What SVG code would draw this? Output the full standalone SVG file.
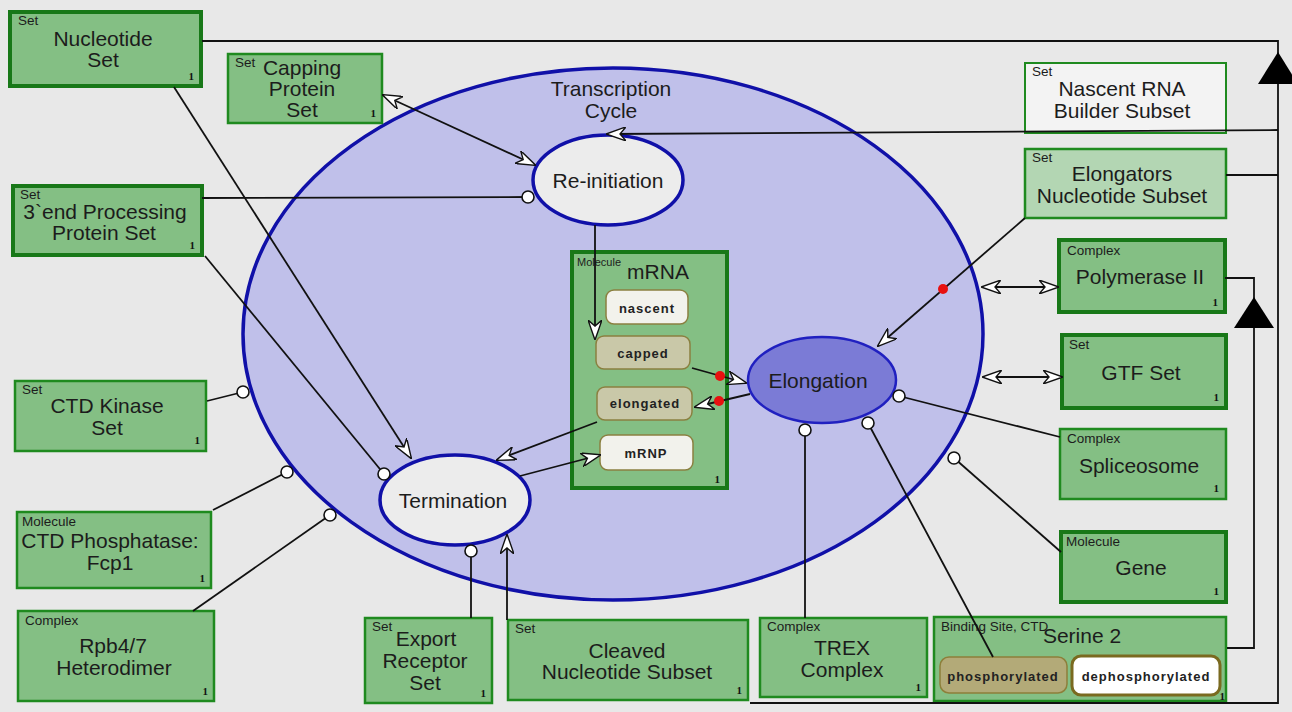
<svg xmlns="http://www.w3.org/2000/svg" width="1292" height="712" viewBox="0 0 1292 712">
<defs>
<style>
.bg{fill:#e8e8e8}
.box{fill:#84bf84;stroke:#1f8a1f;stroke-width:2.5}
.thick{stroke:#187818;stroke-width:4}
.lt{fill:#b3d6b3}
.wh{fill:#f3f3f3}
.t{font-family:"Liberation Sans",Arial,sans-serif;font-size:21px;fill:#1c1c1c;text-anchor:middle}
.k{font-family:"Liberation Sans",Arial,sans-serif;font-size:13.5px;fill:#1c1c1c}
.n{font-family:"Liberation Serif","Times New Roman",serif;font-size:11px;font-weight:bold;fill:#111;text-anchor:end}
.s{font-family:"Liberation Sans",Arial,sans-serif;font-size:13px;font-weight:bold;letter-spacing:1px;fill:#222;text-anchor:middle}
.st{fill:#f2f2ec;stroke:#8a8040;stroke-width:1.5}
.sg{fill:#c9c8a8;stroke:#8a8040;stroke-width:1.5}
.proc{fill:#ececec;stroke:#1010a8;stroke-width:3.5}
.ln{fill:none;stroke:#111;stroke-width:1.8}
.cir{fill:#fff;stroke:#111;stroke-width:1.6}
.red{fill:#e81010}
</style>
<marker id="open" viewBox="0 0 20 14" refX="19" refY="7" markerWidth="20" markerHeight="14" markerUnits="userSpaceOnUse" orient="auto-start-reverse">
<path d="M0,0 L20,7 L0,14 L6,7 Z" fill="#fff" stroke="#111" stroke-width="1.4"/>
</marker>
</defs>
<rect class="bg" x="0" y="0" width="1292" height="712"/>

<g id="transcription-cycle">
<ellipse cx="613" cy="334" rx="370" ry="266" fill="#c0c0ea" stroke="#1010a8" stroke-width="3.5"/>
<text class="t" x="611" y="96">Transcription</text>
<text class="t" x="611" y="118">Cycle</text>
</g>

<g id="nucleotide-set">
<rect class="box thick" x="10" y="12" width="191" height="74"/>
<text class="k" x="18" y="25">Set</text>
<text class="t" x="103" y="46">Nucleotide</text>
<text class="t" x="103" y="67">Set</text>
<text class="n" x="194" y="80">1</text>
</g>

<g id="capping-protein-set">
<rect class="box" x="228" y="54" width="154" height="69"/>
<text class="k" x="235" y="67">Set</text>
<text class="t" x="302" y="75">Capping</text>
<text class="t" x="302" y="96">Protein</text>
<text class="t" x="302" y="117">Set</text>
<text class="n" x="376" y="117">1</text>
</g>

<g id="end-processing-protein-set">
<rect class="box thick" x="13" y="186" width="189" height="69"/>
<text class="k" x="20" y="199">Set</text>
<text class="t" x="105" y="219">3`end Processing</text>
<text class="t" x="104" y="240">Protein Set</text>
<text class="n" x="195" y="249">1</text>
</g>

<g id="ctd-kinase-set">
<rect class="box" x="15" y="381" width="191" height="70"/>
<text class="k" x="22" y="394">Set</text>
<text class="t" x="107" y="413">CTD Kinase</text>
<text class="t" x="107" y="435">Set</text>
<text class="n" x="200" y="444">1</text>
</g>

<g id="ctd-phosphatase-fcp1">
<rect class="box" x="17" y="512" width="194" height="76"/>
<text class="k" x="22" y="526">Molecule</text>
<text class="t" x="110" y="548">CTD Phosphatase:</text>
<text class="t" x="110" y="570">Fcp1</text>
<text class="n" x="205" y="582">1</text>
</g>

<g id="rpb47-heterodimer">
<rect class="box" x="18" y="611" width="196" height="90"/>
<text class="k" x="25" y="625">Complex</text>
<text class="t" x="113" y="653">Rpb4/7</text>
<text class="t" x="114" y="675">Heterodimer</text>
<text class="n" x="208" y="695">1</text>
</g>

<g id="export-receptor-set">
<rect class="box" x="365" y="618" width="127" height="85"/>
<text class="k" x="372" y="631">Set</text>
<text class="t" x="426" y="646">Export</text>
<text class="t" x="425" y="668">Receptor</text>
<text class="t" x="425" y="690">Set</text>
<text class="n" x="486" y="697">1</text>
</g>

<g id="cleaved-nucleotide-subset">
<rect class="box" x="508" y="620" width="240" height="80"/>
<text class="k" x="515" y="633">Set</text>
<text class="t" x="627" y="658">Cleaved</text>
<text class="t" x="627" y="679">Nucleotide Subset</text>
<text class="n" x="742" y="694">1</text>
</g>

<g id="trex-complex">
<rect class="box" x="760" y="618" width="167" height="79"/>
<text class="k" x="767" y="631">Complex</text>
<text class="t" x="842" y="655">TREX</text>
<text class="t" x="842" y="677">Complex</text>
<text class="n" x="921" y="691">1</text>
</g>

<g id="serine-2">
<rect class="box" x="934" y="617" width="292" height="84"/>
<text class="k" x="941" y="631">Binding Site, CTD</text>
<text class="t" x="1082" y="643">Serine 2</text>
<rect x="940" y="657" width="127" height="36" rx="9" fill="#b3aa78" stroke="#8d7f3a" stroke-width="1.5"/>
<text class="s" x="1003" y="681">phosphorylated</text>
<rect x="1072" y="656" width="148" height="39" rx="9" fill="#ffffff" stroke="#7a6a20" stroke-width="3"/>
<text class="s" x="1146" y="681">dephosphorylated</text>
<text class="n" x="1225" y="700">1</text>
</g>

<g id="nascent-rna-builder-subset">
<rect class="box wh" x="1025" y="63" width="201" height="70" style="stroke-width:2"/>
<text class="k" x="1032" y="76">Set</text>
<text class="t" x="1122" y="96">Nascent RNA</text>
<text class="t" x="1122" y="118">Builder Subset</text>
</g>

<g id="elongators-nucleotide-subset">
<rect class="box lt" x="1025" y="149" width="201" height="69"/>
<text class="k" x="1032" y="162">Set</text>
<text class="t" x="1122" y="181">Elongators</text>
<text class="t" x="1122" y="203">Nucleotide Subset</text>
</g>

<g id="polymerase-ii">
<rect class="box thick" x="1059" y="240" width="166" height="72"/>
<text class="k" x="1067" y="255">Complex</text>
<text class="t" x="1140" y="284">Polymerase II</text>
<text class="n" x="1218" y="306">1</text>
</g>

<g id="gtf-set">
<rect class="box thick" x="1062" y="335" width="164" height="73"/>
<text class="k" x="1069" y="349">Set</text>
<text class="t" x="1141" y="380">GTF Set</text>
<text class="n" x="1219" y="401">1</text>
</g>

<g id="spliceosome">
<rect class="box" x="1060" y="429" width="166" height="70"/>
<text class="k" x="1067" y="443">Complex</text>
<text class="t" x="1139" y="473">Spliceosome</text>
<text class="n" x="1219" y="492">1</text>
</g>

<g id="gene">
<rect class="box thick" x="1061" y="532" width="165" height="70"/>
<text class="k" x="1066" y="546">Molecule</text>
<text class="t" x="1141" y="575">Gene</text>
<text class="n" x="1219" y="595">1</text>
</g>

<g id="mrna">
<rect class="box thick" x="572" y="252" width="155" height="236"/>
<text class="k" x="577" y="266" style="font-size:11px">Molecule</text>
<text class="t" x="658" y="279">mRNA</text>
<rect class="st" x="606" y="290" width="82" height="34" rx="8"/>
<text class="s" x="647" y="313">nascent</text>
<rect class="sg" x="596" y="336" width="94" height="33" rx="8"/>
<text class="s" x="643" y="358">capped</text>
<rect class="sg" x="597" y="387" width="95" height="33" rx="8"/>
<text class="s" x="645" y="408">elongated</text>
<rect class="st" x="600" y="435" width="93" height="35" rx="8"/>
<text class="s" x="646" y="458">mRNP</text>
<text class="n" x="720" y="483">1</text>
</g>

<g id="re-initiation">
<ellipse class="proc" cx="608" cy="180" rx="75" ry="45"/>
<text class="t" x="608" y="188">Re-initiation</text>
</g>

<g id="elongation">
<ellipse cx="822" cy="380" rx="74" ry="43" fill="#7b7bd6" stroke="#2020c0" stroke-width="2.5"/>
<text class="t" x="818" y="388">Elongation</text>
</g>

<g id="termination">
<ellipse class="proc" cx="455" cy="500" rx="75" ry="45"/>
<text class="t" x="453" y="508">Termination</text>
</g>

<g id="connectors">
<line class="ln" x1="174" y1="87" x2="411" y2="458" marker-end="url(#open)"/>
<line class="ln" x1="205" y1="256" x2="384" y2="474"/>
<circle class="cir" cx="384" cy="474" r="6"/>
<line class="ln" x1="383" y1="95" x2="535" y2="165" marker-start="url(#open)" marker-end="url(#open)"/>
<line class="ln" x1="202" y1="198" x2="528" y2="197"/>
<circle class="cir" cx="528" cy="197" r="6"/>
<line class="ln" x1="595" y1="225" x2="595" y2="339" marker-end="url(#open)"/>
<line class="ln" x1="692" y1="368" x2="746" y2="383" marker-end="url(#open)"/>
<circle class="red" cx="720" cy="376" r="5"/>
<line class="ln" x1="750" y1="394" x2="695" y2="407" marker-end="url(#open)"/>
<circle class="red" cx="719" cy="401" r="5"/>
<line class="ln" x1="597" y1="422" x2="497" y2="460" marker-end="url(#open)"/>
<line class="ln" x1="520" y1="476" x2="600" y2="455" marker-end="url(#open)"/>
<line class="ln" x1="1025" y1="218" x2="878" y2="346" marker-end="url(#open)"/>
<circle class="red" cx="943" cy="289" r="5"/>
<line class="ln" x1="982" y1="287" x2="1058" y2="287" marker-start="url(#open)" marker-end="url(#open)"/>
<line class="ln" x1="983" y1="377" x2="1062" y2="377" marker-start="url(#open)" marker-end="url(#open)"/>
<line class="ln" x1="1060" y1="437" x2="899" y2="396"/>
<circle class="cir" cx="899" cy="396" r="6"/>
<line class="ln" x1="1061" y1="552" x2="954" y2="458"/>
<circle class="cir" cx="954" cy="458" r="6"/>
<line class="ln" x1="993" y1="657" x2="868" y2="423"/>
<circle class="cir" cx="868" cy="423" r="6"/>
<line class="ln" x1="805" y1="618" x2="805" y2="430"/>
<circle class="cir" cx="805" cy="430" r="6"/>
<line class="ln" x1="471" y1="618" x2="471" y2="551"/>
<circle class="cir" cx="471" cy="551" r="6"/>
<line class="ln" x1="507" y1="620" x2="507" y2="535" marker-end="url(#open)"/>
<line class="ln" x1="207" y1="401" x2="243" y2="392"/>
<circle class="cir" cx="243" cy="392" r="6"/>
<line class="ln" x1="213" y1="510" x2="287" y2="472"/>
<circle class="cir" cx="287" cy="472" r="6"/>
<line class="ln" x1="193" y1="611" x2="330" y2="515"/>
<circle class="cir" cx="330" cy="515" r="6"/>
<line class="ln" x1="1278" y1="130" x2="607" y2="134" marker-end="url(#open)"/>
<polyline class="ln" points="202,41 1278,41 1278,703 750,703"/>
<polygon points="1278,52 1298,84 1258,84" fill="#000"/>
<line class="ln" x1="1226" y1="175" x2="1278" y2="175"/>
<polyline class="ln" points="1225,278 1254,278 1254,648 1227,648"/>
<polygon points="1254,297 1274,328 1234,328" fill="#000"/>
</g>
</svg>
